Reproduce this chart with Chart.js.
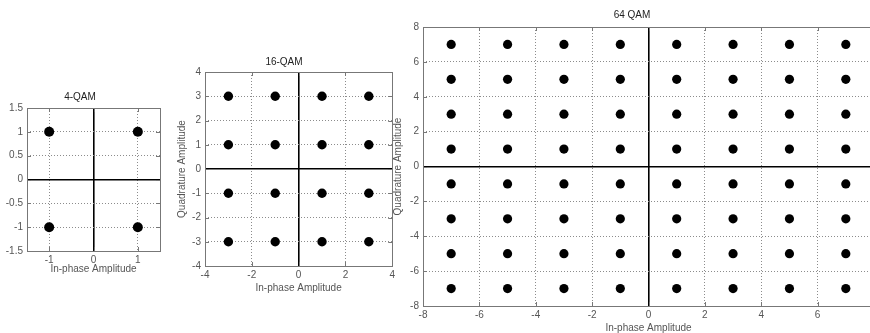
<!DOCTYPE html>
<html>
<head>
<meta charset="utf-8">
<script src="https://cdn.jsdelivr.net/npm/chart.js@4.4.0/dist/chart.umd.min.js"></script>
<style>
  html, body { margin: 0; padding: 0; background: #fff; overflow: hidden; width: 870px; height: 333px; }
  canvas { position: absolute; }
</style>
</head>
<body>
<canvas id="c4" width="168" height="194" style="left:0px;top:81px"></canvas>
<canvas id="c16" width="223" height="244" style="left:175px;top:50px"></canvas>
<canvas id="c64" width="492" height="334" style="left:390px;top:0px"></canvas>
<script>
// amplitude levels on each axis
const LEVELS_4 = [-1, 1];
const LEVELS_16 = [-3, -1, 1, 3];
const LEVELS_64 = [-7, -5, -3, -1, 1, 3, 5, 7];

// tick labels
const X_TICKS_4 = [-1, 0, 1];
const Y_TICKS_4 = [-1.5, -1, -0.5, 0, 0.5, 1, 1.5];
const X_TICKS_16 = [-4, -2, 0, 2, 4];
const Y_TICKS_16 = [-4, -3, -2, -1, 0, 1, 2, 3, 4];
const X_TICKS_64 = [-8, -6, -4, -2, 0, 2, 4, 6, 8];
const Y_TICKS_64 = [-8, -6, -4, -2, 0, 2, 4, 6, 8];

const TITLES = ['4-QAM', '16-QAM', '64 QAM'];
const X_TITLE = 'In-phase Amplitude';
const Y_TITLE = 'Quadrature Amplitude';

Chart.defaults.font.family = '"Liberation Sans", Arial, sans-serif';
Chart.defaults.font.size = 10;
Chart.defaults.color = '#555';

// box around the plot area + small inward tick marks (matlab style)
const frame = {
  id: 'frame',
  afterDatasetsDraw(chart) {
    const { ctx, chartArea: a, scales } = chart;
    const tl = 4;
    ctx.save();
    ctx.strokeStyle = '#777';
    ctx.lineWidth = 1;
    ctx.beginPath();
    for (const t of scales.x.ticks) {
      const px = Math.round(scales.x.getPixelForValue(t.value)) + 0.5;
      ctx.moveTo(px, a.bottom); ctx.lineTo(px, a.bottom - tl);
      ctx.moveTo(px, a.top); ctx.lineTo(px, a.top + tl);
    }
    for (const t of scales.y.ticks) {
      const py = Math.round(scales.y.getPixelForValue(t.value)) + 0.5;
      ctx.moveTo(a.left, py); ctx.lineTo(a.left + tl, py);
      ctx.moveTo(a.right, py); ctx.lineTo(a.right - tl, py);
    }
    ctx.stroke();
    ctx.strokeRect(Math.round(a.left) + 0.5, Math.round(a.top) + 0.5,
      Math.round(a.right - a.left), Math.round(a.bottom - a.top));
    ctx.restore();
  }
};

function constellation(levels) {
  const pts = [];
  for (const q of levels) for (const i of levels) pts.push({ x: i, y: q });
  return pts;
}

function axis(ticks, o) {
  return {
    type: 'linear',
    min: o.min, max: o.max,
    afterBuildTicks: s => { s.ticks = ticks.map(v => ({ value: v })); },
    afterFit: s => { if (o.width != null) s.width = o.width; if (o.height != null) s.height = o.height; },
    grid: {
      drawTicks: false,
      color: c => {
        const v = c.tick && c.tick.value;
        if (v === 0) return '#000';
        if (v === o.min || v === o.max) return 'rgba(0,0,0,0)';
        return '#8c8c8c';
      },
      lineWidth: c => (c.tick && c.tick.value === 0 ? 1.6 : 1)
    },
    border: {
      display: false,
      dash: c => (c.tick && c.tick.value === 0 ? [] : [1, 2])
    },
    ticks: {
      padding: o.tickPad,
      autoSkip: false,
      maxRotation: 0,
      callback: v => String(v)
    },
    title: o.title ? { display: true, text: o.title, padding: o.titlePad } : { display: false }
  };
}

function qamChart(id, t) {
  return new Chart(document.getElementById(id), {
    type: 'scatter',
    data: {
      datasets: [{
        data: constellation(t.levels),
        backgroundColor: '#000',
        borderWidth: 0,
        pointRadius: t.radius,
        pointHoverRadius: t.radius
      }]
    },
    options: {
      responsive: false,
      animation: false,
      layout: { padding: { left: 0, right: t.padRight, top: 0, bottom: 0 } },
      plugins: {
        legend: { display: false },
        tooltip: { enabled: false },
        title: {
          display: true,
          text: t.title,
          color: '#222',
          font: { size: 10, weight: 'normal' },
          padding: t.titlePad
        }
      },
      scales: {
        x: axis(t.xTicks, { min: t.range[0], max: t.range[1], height: t.xHeight, tickPad: 3,
          title: X_TITLE, titlePad: { top: 0, bottom: 0 } }),
        y: axis(t.yTicks, { min: t.range[0], max: t.range[1], width: t.yWidth, tickPad: 4,
          title: t.yTitle ? Y_TITLE : null, titlePad: { top: t.yTitlePad, bottom: 0 } })
      }
    },
    plugins: [frame]
  });
}

qamChart('c4', {
  title: TITLES[0], levels: LEVELS_4, xTicks: X_TICKS_4, yTicks: Y_TICKS_4,
  range: [-1.5, 1.5], radius: 5, yWidth: 27, xHeight: 24, padRight: 8,
  titlePad: { top: 10, bottom: 5 }, yTitle: false
});

qamChart('c16', {
  title: TITLES[1], levels: LEVELS_16, xTicks: X_TICKS_16, yTicks: Y_TICKS_16,
  range: [-4, 4], radius: 4.7, yWidth: 30, xHeight: 28, padRight: 5,
  titlePad: { top: 6, bottom: 4 }, yTitle: true, yTitlePad: 1
});

qamChart('c64', {
  title: TITLES[2], levels: LEVELS_64, xTicks: X_TICKS_64, yTicks: Y_TICKS_64,
  range: [-8, 8], radius: 4.6, yWidth: 33, xHeight: 28, padRight: 8,
  titlePad: { top: 9, bottom: 6 }, yTitle: true, yTitlePad: 2
});
</script>
</body>
</html>
